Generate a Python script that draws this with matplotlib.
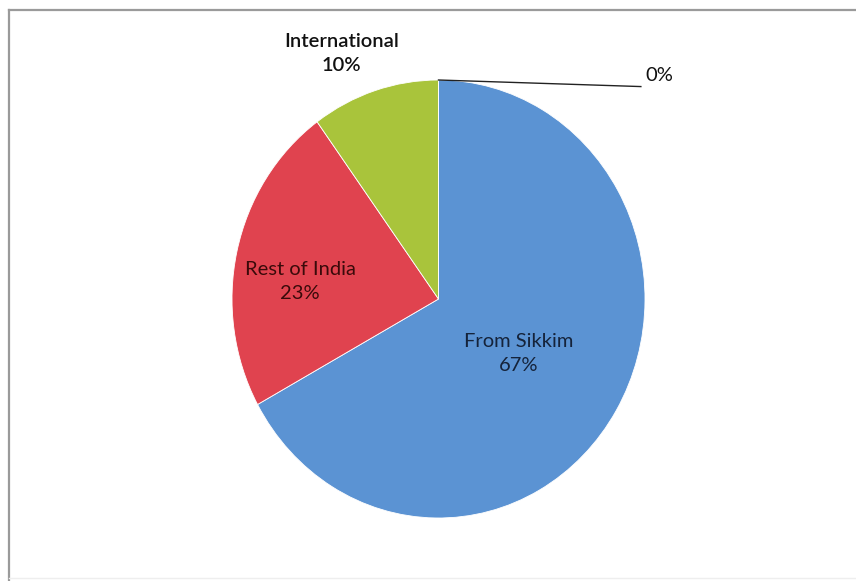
import matplotlib.pyplot as plt
from matplotlib.lines import Line2D

# slice data (clockwise from 12 o'clock)
sources = ['From Sikkim', 'Rest of India', 'International', '']
shares = [67, 23, 10, 0]
colors = ['#5B93D3', '#E0434F', '#A9C43B', '#7F7F7F']

plt.rcParams['font.family'] = ['Lato', 'DejaVu Sans']

fig = plt.figure(figsize=(8.56, 5.81), dpi=100)
fig.patch.set_facecolor('white')

# chart border (only top and left edges show in the crop)
W, H = 856, 581
fig.lines.append(Line2D([9 / W, 9 / W], [0, 1 - 10 / H], transform=fig.transFigure,
                        color='#9a9a9a', linewidth=1.6))
fig.lines.append(Line2D([9 / W, 1], [1 - 10 / H, 1 - 10 / H], transform=fig.transFigure,
                        color='#9a9a9a', linewidth=1.6))
fig.lines.append(Line2D([9 / W, 1], [3 / H, 3 / H], transform=fig.transFigure,
                        color='#eeeeee', linewidth=1.0))

# pie in its own axes, slightly squashed like the original
ax = fig.add_axes([232 / W, 63 / H, 413 / W, 438 / H])
wedges, _ = ax.pie(shares, colors=colors, startangle=90, counterclock=False,
                   wedgeprops=dict(linewidth=0.6, edgecolor='white'))
ax.set_aspect('auto')
ax.set_xlim(-1, 1)
ax.set_ylim(-1, 1)
ax.axis('off')

# label positions (in pie radius units)
label_pos = [(0.39, -0.25), (-0.67, 0.08), (-0.47, 1.12), (1.07, 1.02)]
label_color = ['#15233a', '#3a0a0a', '#111111', '#111111']
for name, val, (lx, ly), c in zip(sources, shares, label_pos, label_color):
    txt = f'{name}\n{val}%' if name else f'{val}%'
    ax.text(lx, ly, txt, ha='center', va='center', fontsize=14.5,
            color=c, linespacing=1.5, clip_on=False,
            fontweight='semibold' if name == 'International' else 'normal')

# leader line for the 0% slice
ax.plot([0, 0.98], [1.0, 0.97], color='#222222', linewidth=1, clip_on=False)

fig.savefig('out.png', dpi=100)
